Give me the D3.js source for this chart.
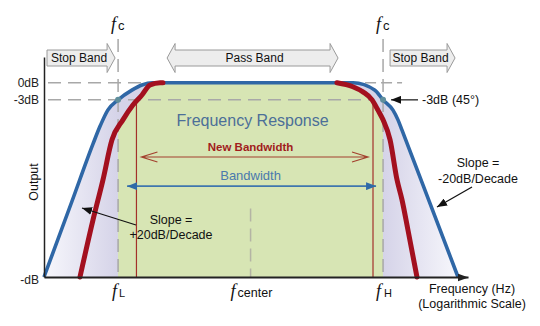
<!DOCTYPE html>
<html>
<head>
<meta charset="utf-8">
<script src="https://cdn.jsdelivr.net/npm/d3@7"></script>
<style>
body{margin:0;background:#fff;}
svg{display:block;font-family:"Liberation Sans",Arial,sans-serif;}
</style>
</head>
<body>
<script>
var w = 540, h = 326;

// frequency in Hz (log axis), output in dB
var fL = 100, fH = 31600, fCenter = 1778;
var newBand = [149, 25400];
var blueF  = [20, 36.8, 58, 68, 80, 100, 135, 168, 210, 16500, 26500, 31600, 39200, 43700, 47700, 64600, 87600, 161000];
var blueDB = [-34, -20.7, -10.7, -7.5, -4.8, -3, -1.3, -0.4, 0, 0, -1.3, -3, -4.8, -6.5, -8.3, -14.7, -21.1, -34];
var redLowF  = [43.7, 58, 72, 87.6, 111, 138, 168, 200, 249, 265];
var redLowDB = [-34, -24, -17, -10, -6.5, -3.9, -2.15, -0.4, 0, 0];
var redHighF  = [11600, 16400, 20400, 24900, 28300, 31600, 36800, 42800, 47700, 54300, 66000];
var redHighDB = [0, -0.7, -1.6, -3, -4.8, -6.5, -10, -17, -20.5, -25.8, -34];
var dbTicks = [0, -3, -34];
var dbLabels = ['0dB', '-3dB', '-dB'];

var x = d3.scaleLog().domain([20, 200000]).range([44, 468]);
var y = d3.scaleLinear().domain([-34, 4.5]).range([277, 57]);

var blue = d3.zip(blueF, blueDB);
var redLow = d3.zip(redLowF, redLowDB);
var redHigh = d3.zip(redHighF, redHighDB);

var svg = d3.select('body').append('svg')
	.attr('width', w)
	.attr('height', h);
var defs = svg.append('defs');

// lavender fades to white toward the slopes
var lav = defs.append('linearGradient')
	.attr('id', 'lav')
	.attr('gradientUnits', 'userSpaceOnUse')
	.attr('x1', x(20)).attr('x2', x(161000))
	.attr('y1', 0).attr('y2', 0);
var span = x(161000) - x(20);
lav.append('stop').attr('offset', 0).attr('stop-color', '#f7f7fc');
lav.append('stop').attr('offset', (x(fL) - x(20)) / span).attr('stop-color', '#d5d3e8');
lav.append('stop').attr('offset', (x(fH) - x(20)) / span).attr('stop-color', '#d5d3e8');
lav.append('stop').attr('offset', 1).attr('stop-color', '#f7f7fc');

defs.append('clipPath').attr('id', 'band')
	.append('rect')
	.attr('x', x(fL)).attr('y', 0)
	.attr('width', x(fH) - x(fL)).attr('height', y(-34));

function marker(id, len, half, color) {
	defs.append('marker')
		.attr('id', id)
		.attr('markerUnits', 'userSpaceOnUse')
		.attr('viewBox', '0 0 ' + len + ' ' + (half * 2))
		.attr('refX', len).attr('refY', half)
		.attr('markerWidth', len).attr('markerHeight', half * 2)
		.attr('orient', 'auto')
		.append('path')
		.attr('d', 'M0,0L' + len + ',' + half + 'L0,' + (half * 2) + 'Z')
		.attr('fill', color);
}
marker('ah', 10, 4, '#111');
marker('axh', 11, 4, '#222');
marker('bh', 10, 4, '#2f6aa8');

var line = d3.line()
	.x(function(d){ return x(d[0]); })
	.y(function(d){ return y(d[1]); })
	.curve(d3.curveMonotoneX);
var area = d3.area()
	.x(function(d){ return x(d[0]); })
	.y0(y(-34))
	.y1(function(d){ return y(d[1]); })
	.curve(d3.curveMonotoneX);

svg.append('path').attr('d', area(blue)).attr('fill', 'url(#lav)');
svg.append('path').attr('d', area(redLow.concat(redHigh)))
	.attr('fill', '#d7e5b4')
	.attr('clip-path', 'url(#band)');

// dashed guides
var dash = svg.append('g')
	.attr('stroke', '#a8a8a8')
	.attr('stroke-width', 1.5)
	.attr('stroke-dasharray', '13,7');
dash.append('line').attr('x1', 48).attr('x2', x(200)).attr('y1', y(0)).attr('y2', y(0));
dash.append('line').attr('x1', 48).attr('x2', x(24000)).attr('y1', y(-3)).attr('y2', y(-3));
dash.append('line').attr('x1', x(fH) - 18).attr('x2', x(fH) + 19).attr('y1', y(0)).attr('y2', y(0))
	.attr('stroke-dasharray', '11,5');
[fL, fH].forEach(function(f){
	dash.append('line').attr('x1', x(f)).attr('x2', x(f)).attr('y1', 39).attr('y2', y(-34));
});
dash.append('line').attr('x1', x(fCenter)).attr('x2', x(fCenter)).attr('y1', y(-22)).attr('y2', y(-34))
	.attr('stroke', '#b4b4a4');

// new bandwidth edges
newBand.forEach(function(f){
	svg.append('line')
		.attr('x1', x(f)).attr('x2', x(f))
		.attr('y1', y(-3)).attr('y2', y(-34))
		.attr('stroke', '#a3302a').attr('stroke-width', 1.2);
});

// New Bandwidth arrow with open heads
var nbY = y(-13), a = x(newBand[0]) + 5, b = x(newBand[1]) - 5;
svg.append('path')
	.attr('d', 'M' + a + ',' + nbY + 'H' + b +
		'M' + (a + 16) + ',' + (nbY - 5) + 'L' + a + ',' + nbY + 'L' + (a + 16) + ',' + (nbY + 5) +
		'M' + (b - 16) + ',' + (nbY - 5) + 'L' + b + ',' + nbY + 'L' + (b - 16) + ',' + (nbY + 5))
	.attr('fill', 'none').attr('stroke', '#a3402e').attr('stroke-width', 1.2);

// Bandwidth arrow with filled heads
var bwY = y(-18.1);
svg.append('line')
	.attr('x1', x(fL) + 9).attr('x2', x(fH) - 7)
	.attr('y1', bwY).attr('y2', bwY)
	.attr('stroke', '#3f76ae').attr('stroke-width', 1.8)
	.attr('marker-end', 'url(#bh)').attr('marker-start', 'url(#bhs)');
marker('bhs', 10, 4, '#2f6aa8');
defs.select('#bhs').attr('orient', 'auto-start-reverse');

var mid = x(fCenter) + 2;
svg.append('text').attr('x', mid).attr('y', 126)
	.attr('text-anchor', 'middle').attr('font-size', 16).attr('fill', '#4c6f98')
	.text('Frequency Response');
svg.append('text').attr('x', mid - 2).attr('y', 151)
	.attr('text-anchor', 'middle').attr('font-size', 11.5).attr('font-weight', 'bold').attr('fill', '#a11d1d')
	.text('New Bandwidth');
svg.append('text').attr('x', mid - 2).attr('y', 180)
	.attr('text-anchor', 'middle').attr('font-size', 13).attr('fill', '#4a79ad')
	.text('Bandwidth');

// response curves
svg.append('path').attr('d', line(blue))
	.attr('fill', 'none').attr('stroke', '#2f67a6').attr('stroke-width', 3.6);
[redLow, redHigh].forEach(function(r){
	svg.append('path').attr('d', line(r))
		.attr('fill', 'none').attr('stroke', '#a3101f').attr('stroke-width', 5)
		.attr('stroke-linecap', 'round');
});
[fL, fH].forEach(function(f){
	svg.append('circle').attr('cx', x(f)).attr('cy', y(-3)).attr('r', 3)
		.attr('fill', '#5f8e9c');
});

// axes
var ya = svg.append('g')
	.attr('transform', 'translate(' + x(20) + ',0)')
	.call(d3.axisLeft(y).tickValues(dbTicks).tickFormat(function(d, i){ return dbLabels[i]; })
		.tickSize(0).tickSizeOuter(0).tickPadding(5));
ya.select('.domain').attr('stroke', '#222').attr('stroke-width', 1.5);
ya.selectAll('text').attr('font-size', 12).attr('fill', '#222')
	.attr('font-family', '"Liberation Sans",Arial,sans-serif')
	.attr('dy', function(d){ return d == -34 ? '0.5em' : '0.32em'; });

var xa = svg.append('g')
	.attr('transform', 'translate(0,' + y(-34) + ')')
	.call(d3.axisBottom(x).tickValues([]).tickSizeOuter(0));
xa.select('.domain').attr('stroke', '#222').attr('stroke-width', 2)
	.attr('marker-end', 'url(#axh)');

// band arrows on top
function bandArrow(x0, x1, left, right, label, yc) {
	var bh = 8, hh = 14.5, hl = 8;
	var p = [];
	var bx0 = left ? x0 + hl : x0;
	var bx1 = right ? x1 - hl : x1;
	p.push([bx0, yc - bh]);
	p.push([bx1, yc - bh]);
	if (right) { p.push([bx1, yc - hh], [x1, yc], [bx1, yc + hh]); }
	p.push([bx1, yc + bh]);
	p.push([bx0, yc + bh]);
	if (left) { p.push([bx0, yc + hh], [x0, yc], [bx0, yc - hh]); }
	svg.append('path').attr('d', 'M' + p.join('L') + 'Z')
		.attr('fill', '#ededed').attr('stroke', '#9a9a9a').attr('stroke-width', 1);
	svg.append('text').attr('x', (bx0 + bx1) / 2 + 2).attr('y', yc + 4)
		.attr('text-anchor', 'middle').attr('font-size', 12).attr('fill', '#111')
		.text(label);
}
bandArrow(x(20) + 3, x(fL) - 3, false, true, 'Stop Band', 58);
bandArrow(x(fL) + 49, x(fH) - 45, true, true, 'Pass Band', 58);
bandArrow(x(fH) + 7, x(fH) + 72, false, true, 'Stop Band', 58);

// f labels
function fLabel(px, py, sub, subSize, dx) {
	var t = svg.append('text').attr('x', px).attr('y', py).attr('fill', '#111');
	t.append('tspan').text('f')
		.attr('font-family', '"Liberation Serif","Times New Roman",serif')
		.attr('font-style', 'italic').attr('font-size', 18);
	t.append('tspan').text(sub).attr('dx', dx).attr('font-size', subSize);
	return t;
}
fLabel(x(fL) - 7, 30, 'c', 13, 2);
fLabel(x(fH) - 7, 30, 'c', 13, 2);
fLabel(x(fL) - 6, 297, 'L', 11, 2);
fLabel(x(fH) - 7, 297, 'H', 11, 3);
fLabel(x(fCenter) - 20, 297, 'center', 12.5, 2);

// annotations
function note(lines, cx, y0, lh) {
	lines.forEach(function(s, i){
		svg.append('text').attr('x', cx).attr('y', y0 + i * lh)
			.attr('text-anchor', 'middle').attr('font-size', 12.5).attr('fill', '#111')
			.text(s);
	});
}
function pointer(x1, y1, x2, y2) {
	svg.append('line').attr('x1', x1).attr('y1', y1).attr('x2', x2).attr('y2', y2)
		.attr('stroke', '#111').attr('stroke-width', 1.2)
		.attr('marker-end', 'url(#ah)');
}
svg.append('text').attr('x', 422).attr('y', 104)
	.attr('font-size', 12.5).attr('fill', '#111').text('-3dB (45°)');
pointer(418, y(-3), x(fH) + 8, y(-3));

note(['Slope =', '-20dB/Decade'], 478, 167, 15.5);
pointer(472, 187, 437, 207);
note(['Slope =', '+20dB/Decade'], 171, 224, 15);
pointer(136, 225, 82, 208);

svg.append('text')
	.attr('transform', 'translate(38,182) rotate(-90)')
	.attr('text-anchor', 'middle').attr('font-size', 12.5).attr('fill', '#111')
	.text('Output');
note(['Frequency (Hz)', '(Logarithmic Scale)'], 472, 293, 14.5);
</script>
</body>
</html>
